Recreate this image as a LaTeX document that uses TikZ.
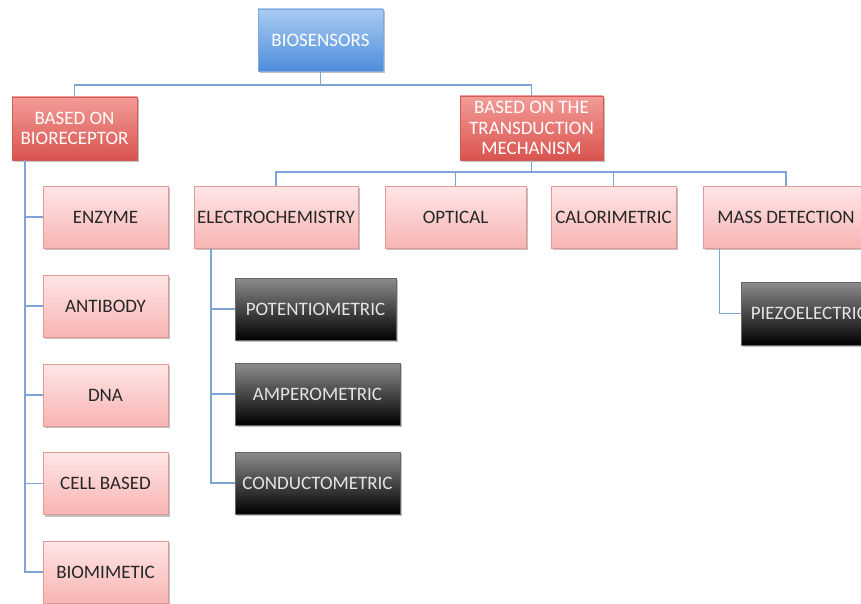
\documentclass[tikz,border=0pt]{standalone}
\usepackage{fontspec}
\setmainfont{Carlito}
\usetikzlibrary{shadows}
\definecolor{linec}{HTML}{7FA5D6}
\tikzset{
  x=1pt,y=-1pt,
  box/.style={rectangle,minimum height=62pt,inner sep=2pt,align=center,
    font=\fontsize{19}{20.5}\selectfont,
    drop shadow={shadow xshift=1.5pt,shadow yshift=-2pt,opacity=0.35,fill=black!70}},
  pinkbox/.style={box,draw=pinkline,line width=0.8pt,top color=pinktop,bottom color=pinkbot,text=black!85},
  redbox/.style={box,draw=redline,line width=0.8pt,top color=redtop,bottom color=redbot,text=white},
  bluebox/.style={box,draw=blueline,line width=0.6pt,top color=bluetop,bottom color=bluebot,text=white},
  darkbox/.style={box,draw=black!60,line width=0.8pt,top color=black!45,bottom color=black,text=white!90!black},
  conn/.style={draw=linec,line width=1.1pt}
}
\definecolor{pinktop}{HTML}{FFE6E6}
\definecolor{pinkbot}{HTML}{F8B4B4}
\definecolor{pinkline}{HTML}{E39896}
\definecolor{redtop}{HTML}{F39C98}
\definecolor{redbot}{HTML}{D9534E}
\definecolor{redline}{HTML}{D45A55}
\definecolor{bluetop}{HTML}{A9CBF2}
\definecolor{bluebot}{HTML}{4E8DDB}
\definecolor{blueline}{HTML}{7FA9DC}
\begin{document}
\begin{tikzpicture}
\useasboundingbox (0,0) rectangle (861,604);
\node[bluebox,minimum width=125pt] (bio) at (320.5,40) {BIOSENSORS};
\node[redbox,minimum width=125pt,minimum height=63pt] (brec) at (74.5,128.5) {BASED ON\\BIORECEPTOR};
\node[redbox,minimum width=143pt,minimum height=64pt] (btr) at (531.5,128) {BASED ON THE\\TRANSDUCTION\\MECHANISM};
% left column
\node[pinkbox,minimum width=125pt] (enz) at (105.5,217) {ENZYME};
\node[pinkbox,minimum width=125pt] (ab) at (105.5,306) {ANTIBODY};
\node[pinkbox,minimum width=125pt] (dna) at (105.5,395) {DNA};
\node[pinkbox,minimum width=125pt] (cell) at (105.5,483.5) {CELL BASED};
\node[pinkbox,minimum width=125pt] (bmm) at (105.5,572) {BIOMIMETIC};
% transduction row
\node[pinkbox,minimum width=164pt] (ec) at (276,217) {ELECTROCHEMISTRY};
\node[pinkbox,minimum width=141pt] (opt) at (455.5,217) {OPTICAL};
\node[pinkbox,minimum width=125pt] (cal) at (613.5,217) {CALORIMETRIC};
\node[pinkbox,minimum width=166pt] (mass) at (786,217) {MASS DETECTION};
% dark boxes
\node[darkbox,minimum width=161pt] (pot) at (315.5,309) {POTENTIOMETRIC};
\node[darkbox,minimum width=165pt] (amp) at (317.5,394) {AMPEROMETRIC};
\node[darkbox,minimum width=165pt] (cond) at (317.5,483) {CONDUCTOMETRIC};
\node[darkbox,minimum width=135pt,minimum height=63pt,anchor=west] (pz) at (741,313.5) {PIEZOELECTRIC};
% connectors
\coordinate (j1) at (320.5,85);
\draw[conn] (bio.south) -- (j1) -| (brec.north);
\draw[conn] (j1) -| (btr.north);
\coordinate (j2) at (531.5,172);
\draw[conn] (btr.south) -- (j2) -| (ec.north);
\draw[conn] (j2) -| (opt.north);
\draw[conn] (j2) -| (cal.north);
\draw[conn] (j2) -| (mass.north);
\coordinate (lv) at (25,0);
\draw[conn] (brec.south -| lv) |- (bmm.west);
\draw[conn] (lv |- enz.west) -- (enz.west);
\draw[conn] (lv |- ab.west) -- (ab.west);
\draw[conn] (lv |- dna.west) -- (dna.west);
\draw[conn] (lv |- cell.west) -- (cell.west);
\coordinate (ev) at (211,0);
\draw[conn] (ec.south -| ev) |- (cond.west);
\draw[conn] (ev |- pot.west) -- (pot.west);
\draw[conn] (ev |- amp.west) -- (amp.west);
\coordinate (mv) at (719.5,0);
\draw[conn] (mass.south -| mv) |- (pz.west);
\end{tikzpicture}
\end{document}
